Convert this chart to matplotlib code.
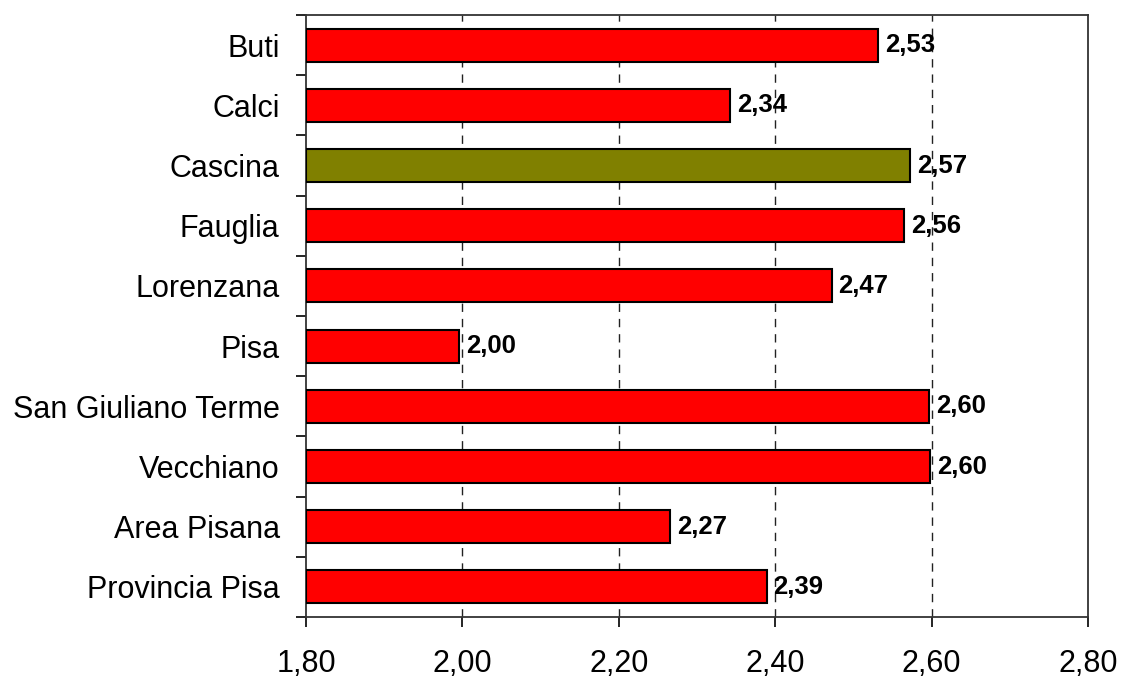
import numpy as np
import matplotlib
matplotlib.use("Agg")
from matplotlib import pyplot as plt
from matplotlib.ticker import FixedLocator

plt.rcParams['font.family'] = ['Liberation Sans', 'DejaVu Sans']

# Data
comuni = ["Buti", "Calci", "Cascina", "Fauglia", "Lorenzana", "Pisa",
          "San Giuliano Terme", "Vecchiano", "Area Pisana", "Provincia Pisa"]
valori = [2.531, 2.342, 2.572, 2.565, 2.472, 1.996, 2.597, 2.598, 2.266, 2.389]
etichette = ["2,53", "2,34", "2,57", "2,56", "2,47", "2,00", "2,60", "2,60", "2,27", "2,39"]
evidenziato = "Cascina"
xticks = [1.80, 2.00, 2.20, 2.40, 2.60, 2.80]

colori = ['#808000' if c == evidenziato else '#FF0000' for c in comuni]

fig = plt.figure(figsize=(11.23, 6.77), dpi=100)
ax = fig.add_axes([0.2725, 0.0886, 0.6964, 0.8892])

y = np.arange(len(comuni))
x0 = xticks[0]
ax.barh(y, np.array(valori) - x0, left=x0, height=0.55, color=colori,
        edgecolor='black', linewidth=1.5, zorder=3)

for yi, v, lab in zip(y, valori, etichette):
    ax.annotate(lab, (v, yi), xytext=(5, 0), textcoords='offset points',
                ha='left', va='center', fontsize=18.5, fontweight='bold', zorder=4)

ax.set_xlim(xticks[0], xticks[-1])
ax.set_ylim(len(comuni) - 0.5, -0.5)
ax.set_xticks(xticks)
ax.set_xticklabels([f"{t:.2f}".replace('.', ',') for t in xticks], fontsize=22)

ax.set_yticks(y)
ax.set_yticklabels(comuni, fontsize=22)
ax.tick_params(axis='y', which='major', length=0, pad=19)
ax.yaxis.set_minor_locator(FixedLocator(np.arange(-0.5, len(comuni), 1.0)))
ax.tick_params(axis='y', which='minor', length=7, width=1.2, direction='out')
ax.tick_params(axis='x', which='major', length=7, width=1.2, direction='out', pad=16)

for t in xticks[1:-1]:
    ax.axvline(t, color='#222222', linestyle=(0, (6, 5)), linewidth=1.0, zorder=1)

for s in ax.spines.values():
    s.set_linewidth(1.3)
    s.set_color('#333333')

fig.savefig("out.png", dpi=100)
